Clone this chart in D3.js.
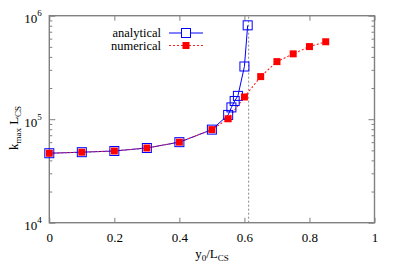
<!DOCTYPE html>
<html>
<head>
<meta charset="utf-8">
<script src="https://cdnjs.cloudflare.com/ajax/libs/d3/7.8.5/d3.min.js"></script>
<style>
  body { margin: 0; background: #fff; }
</style>
</head>
<body>
<script>
// analytical curve (open blue squares)
const anaX = [0, 0.1, 0.2, 0.3, 0.4, 0.5, 0.55, 0.56, 0.57, 0.58, 0.6, 0.61];
const anaY = [46900, 48000, 49300, 52700, 60000, 79300, 110000, 130000, 150000, 168000, 323000, 807000];
// numerical curve (filled red squares)
const numX = [0, 0.1, 0.2, 0.3, 0.4, 0.5, 0.55, 0.6, 0.65, 0.7, 0.75, 0.8, 0.85];
const numY = [46900, 48000, 49300, 52700, 60000, 79300, 101000, 164000, 258000, 360000, 428000, 503000, 560000];
const xTicks = [0, 0.2, 0.4, 0.6, 0.8, 1];
const yTicks = [1e4, 1e5, 1e6];
const critX = 0.613;

const FONT = "Liberation Serif";
const W = 399, H = 279;
const margin = {top: 15.7, right: 24.5, bottom: 56.3, left: 49.3};

const svg = d3.select("body").append("svg")
    .attr("width", W)
    .attr("height", H)
    .style("font-family", FONT);

const x = d3.scaleLinear().domain([0, 1]).range([margin.left, W - margin.right]);
const y = d3.scaleLog().domain([1e4, 1e6]).range([H - margin.bottom, margin.top]);

const axisCol = "#808080";
const minor = y.ticks().filter(d => yTicks.indexOf(d) < 0);

// ticks: left / right with minor log ticks, top / bottom majors
function tickAxis(axis, tr) {
  const g = svg.append("g").attr("transform", tr).call(axis);
  g.select(".domain").remove();
  g.attr("font-family", FONT);
  g.selectAll("line").attr("stroke", axisCol);
  return g;
}
tickAxis(d3.axisLeft(y).tickValues(minor).tickSize(-3).tickFormat(""), `translate(${margin.left},0)`);
tickAxis(d3.axisRight(y).tickValues(minor).tickSize(-3).tickFormat(""), `translate(${W - margin.right},0)`);
tickAxis(d3.axisRight(y).tickValues(yTicks).tickSize(-6).tickFormat(""), `translate(${W - margin.right},0)`);
tickAxis(d3.axisTop(x).tickValues(xTicks).tickSize(-5).tickFormat(""), `translate(0,${margin.top})`);

const gx = tickAxis(d3.axisBottom(x).tickValues(xTicks).tickSize(-5).tickPadding(10)
    .tickFormat(d3.format("")), `translate(0,${H - margin.bottom})`);
gx.selectAll("text").attr("font-size", 13).attr("font-family", FONT).attr("fill", "#000");

const gy = tickAxis(d3.axisLeft(y).tickValues(yTicks).tickSize(-6).tickFormat(""), `translate(${margin.left},0)`);
gy.selectAll(".tick").append("text")
    .attr("x", -25).attr("y", 7)
    .attr("text-anchor", "start")
    .attr("font-size", 13)
    .attr("font-family", FONT)
    .attr("fill", "#000")
    .each(function(d) {
      const t = d3.select(this);
      t.append("tspan").text("10");
      t.append("tspan").attr("dy", -7).attr("font-size", 9).text(Math.round(Math.log10(d)));
    });

// frame
svg.append("rect")
    .attr("x", margin.left).attr("y", margin.top)
    .attr("width", W - margin.left - margin.right)
    .attr("height", H - margin.top - margin.bottom)
    .attr("fill", "none").attr("stroke", axisCol).attr("stroke-width", 1.4);

// critical y0 marker
svg.append("line")
    .attr("x1", x(critX)).attr("x2", x(critX))
    .attr("y1", y(1e4)).attr("y2", y(1e6))
    .attr("stroke", "#888").attr("stroke-width", 1).attr("stroke-dasharray", "2,2");

const ana = anaX.map((v, i) => [v, anaY[i]]);
const num = numX.map((v, i) => [v, numY[i]]);
const line = d3.line().x(d => x(d[0])).y(d => y(d[1]));

svg.append("path").datum(ana).attr("d", line)
    .attr("fill", "none").attr("stroke", "#0000ff").attr("stroke-width", 1);
svg.append("path").datum(num).attr("d", line)
    .attr("fill", "none").attr("stroke", "#ff2020").attr("stroke-width", 1.1).attr("stroke-dasharray", "2,2");

svg.selectAll(".ana").data(ana).enter().append("rect")
    .attr("x", d => x(d[0]) - 4.5).attr("y", d => y(d[1]) - 4.5)
    .attr("width", 9).attr("height", 9)
    .attr("fill", "none").attr("stroke", "#0000ff").attr("stroke-width", 1);
svg.selectAll(".num").data(num).enter().append("rect")
    .attr("x", d => x(d[0]) - 3.5).attr("y", d => y(d[1]) - 3.5)
    .attr("width", 7).attr("height", 7)
    .attr("fill", "#ff0000");

// legend
const leg = svg.append("g").attr("font-family", FONT);
leg.append("text").attr("x", 161).attr("y", 37).attr("text-anchor", "end").attr("font-size", 12.5).text("analytical");
leg.append("text").attr("x", 161).attr("y", 49.5).attr("text-anchor", "end").attr("font-size", 12.5).text("numerical");
leg.append("line").attr("x1", 169).attr("x2", 203).attr("y1", 33).attr("y2", 33)
    .attr("stroke", "#0000ff").attr("stroke-width", 1);
leg.append("rect").attr("x", 181.5).attr("y", 28.5).attr("width", 9).attr("height", 9)
    .attr("fill", "#fff").attr("stroke", "#0000ff").attr("stroke-width", 1);
leg.append("line").attr("x1", 169).attr("x2", 203).attr("y1", 45.5).attr("y2", 45.5)
    .attr("stroke", "#ff2020").attr("stroke-width", 1.1).attr("stroke-dasharray", "2,2");
leg.append("rect").attr("x", 182.5).attr("y", 42).attr("width", 7).attr("height", 7).attr("fill", "#ff0000");

// axis titles
const xt = svg.append("text").attr("x", 212).attr("y", 258).attr("text-anchor", "middle")
    .attr("font-size", 13).attr("font-family", FONT);
xt.append("tspan").text("y");
xt.append("tspan").attr("dy", 3).attr("font-size", 9).text("0");
xt.append("tspan").attr("dy", -3).text("/L");
xt.append("tspan").attr("dy", 3).attr("font-size", 9).text("CS");

const yt = svg.append("text").attr("transform", "translate(18,128) rotate(-90)")
    .attr("text-anchor", "middle").attr("font-size", 13).attr("font-family", FONT);
yt.append("tspan").text("k");
yt.append("tspan").attr("dy", 3).attr("font-size", 9).text("max");
yt.append("tspan").attr("dy", -3).text(" L");
yt.append("tspan").attr("dy", 3).attr("font-size", 9).text("CS");
</script>
</body>
</html>
